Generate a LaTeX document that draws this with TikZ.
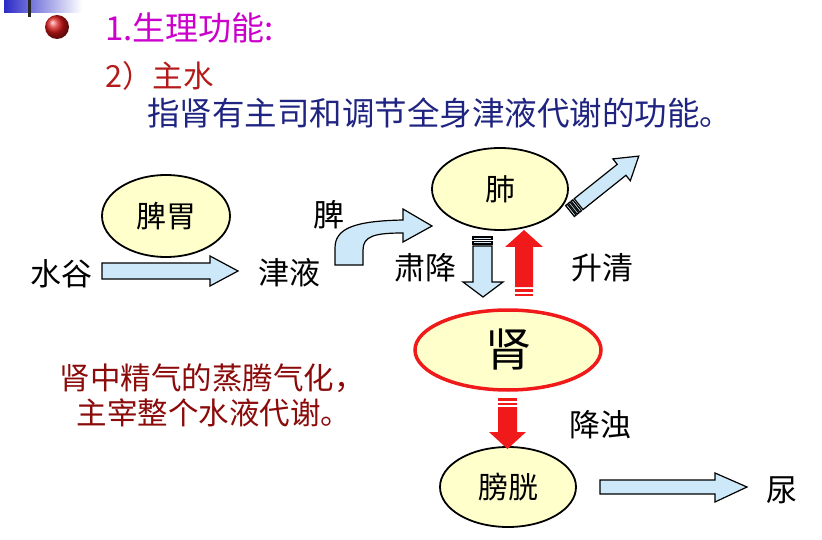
\documentclass[tikz,border=0pt]{standalone}
\usepackage{fontspec}
\setmainfont{Noto Sans CJK SC}
\usetikzlibrary{shapes.geometric}
\definecolor{figyellow}{HTML}{FFFFCC}
\definecolor{figsky}{HTML}{CDE8F8}
\definecolor{figred}{HTML}{F01A1A}
\definecolor{figwine}{HTML}{8B0A0A}
\definecolor{fignavy}{HTML}{1F2480}
\definecolor{figmagenta}{HTML}{CC00CC}
\definecolor{figbrick}{HTML}{B41A1A}
\definecolor{figband}{HTML}{2B2BC8}
\tikzset{
  organ/.style={ellipse,draw=black,line width=1.8pt,fill=figyellow,inner sep=0pt,
    minimum width=136pt,minimum height=82pt,font=\fontsize{30}{33}\selectfont},
  word/.style={inner sep=0pt,font=\fontsize{31}{34}\selectfont},
  bluearrow/.style={fill=figsky,draw=black,line width=1.2pt,line join=miter},
  redarrow/.style={fill=figred},
  redtext/.style={inner sep=0pt,text=figwine,font=\fontsize{30.5}{34}\selectfont}
}

\begin{document}
\begin{tikzpicture}[x=1pt,y=-1pt]
  \useasboundingbox (0,0) rectangle (822,540);
  % slide corner and bullet
  \shade[left color=figband,right color=white] (4,0) rectangle (82,13);
  \fill[black!85] (27.5,0) rectangle (30.5,17);
  \shade[ball color=figred!90!black] (57,27) circle (12pt);
  % headings
  \node[anchor=west,inner sep=0pt,text=figmagenta,font=\fontsize{33}{36}\selectfont] (title) at (105,28) {1.生理功能:};
  \node[anchor=west,inner sep=0pt,text=figbrick,font=\fontsize{30.5}{34}\selectfont] (sub) at (105,76) {2）主水};
  \node[anchor=west,inner sep=0pt,text=fignavy,font=\fontsize{32.5}{36}\selectfont] (def) at (147,113) {指肾有主司和调节全身津液代谢的功能。};
  % organs
  \node[organ,minimum width=128pt] (piwei) at (166,216) {脾胃};
  \node[organ] (fei) at (500,189) {肺};
  \node[organ,draw=figred,line width=3.5pt,minimum width=186pt,minimum height=80pt,
    font=\fontsize{46}{50}\selectfont] (shen) at (508,350) {肾};
  \node[organ,minimum height=80pt] (pangguang) at (508,487) {膀胱};
  % labels
  \node[word] (shuigu) at (61,274) {水谷};
  \node[word] (jinye) at (289,273) {津液};
  \node[word] (pi) at (329,215) {脾};
  \node[word] (sujiang) at (425,268) {肃降};
  \node[word] (shengqing) at (602,268) {升清};
  \node[word] (jiangzhuo) at (600,425) {降浊};
  \node[word] (niao) at (782,490) {尿};
  \node[redtext] (line1) at (212,378) {肾中精气的蒸腾气化，};
  \node[redtext] (line2) at (214,413) {主宰整个水液代谢。};
  % block arrows
  \draw[bluearrow] (102,263) -- (210,263) -- (210,256) -- (238,271) -- (210,286) -- (210,279) -- (102,279) -- cycle;
  \draw[bluearrow] (600,480) -- (715,480) -- (715,473) -- (747,487) -- (715,502) -- (715,494) -- (600,494) -- cycle;
  \draw[bluearrow] (335,265) -- (335,248) .. controls (335,228) and (355,221) .. (403,220)
    -- (403,209) -- (432,226) -- (403,242) -- (403,233) .. controls (375,233) and (363,236) .. (363,250)
    -- (363,265) -- cycle;
  % down from lung
  \draw[bluearrow] (473,237) rectangle (492,239.5);
  \draw[bluearrow] (473,241.5) rectangle (492,244);
  \draw[bluearrow] (473,246) -- (473,282) -- (463,282) -- (483,297) -- (503,282) -- (492,282) -- (492,246) -- cycle;
  % up to lung
  \fill[redarrow] (515,287) -- (515,247) -- (505,247) -- (524,230) -- (543,247) -- (533,247) -- (533,287) -- cycle;
  \fill[redarrow] (515,289) rectangle (533,291.5);
  \fill[redarrow] (515,293.5) rectangle (533,296);
  % down to bladder
  \fill[redarrow] (498,398) rectangle (517,400.5);
  \fill[redarrow] (498,402.5) rectangle (517,405);
  \fill[redarrow] (498,407) -- (498,432) -- (489,432) -- (507.5,449) -- (526,432) -- (517,432) -- (517,407) -- cycle;
  % out of lung
  \begin{scope}[shift={(570,211)},rotate=38.6]
    \foreach \s in {0,3.5,7} \draw[bluearrow] (\s,-7) rectangle (\s+2.2,7);
    \draw[bluearrow] (11,-7) -- (66,-7) -- (66,-14) -- (88,0) -- (66,14) -- (66,7) -- (11,7) -- cycle;
  \end{scope}
\end{tikzpicture}
\end{document}
